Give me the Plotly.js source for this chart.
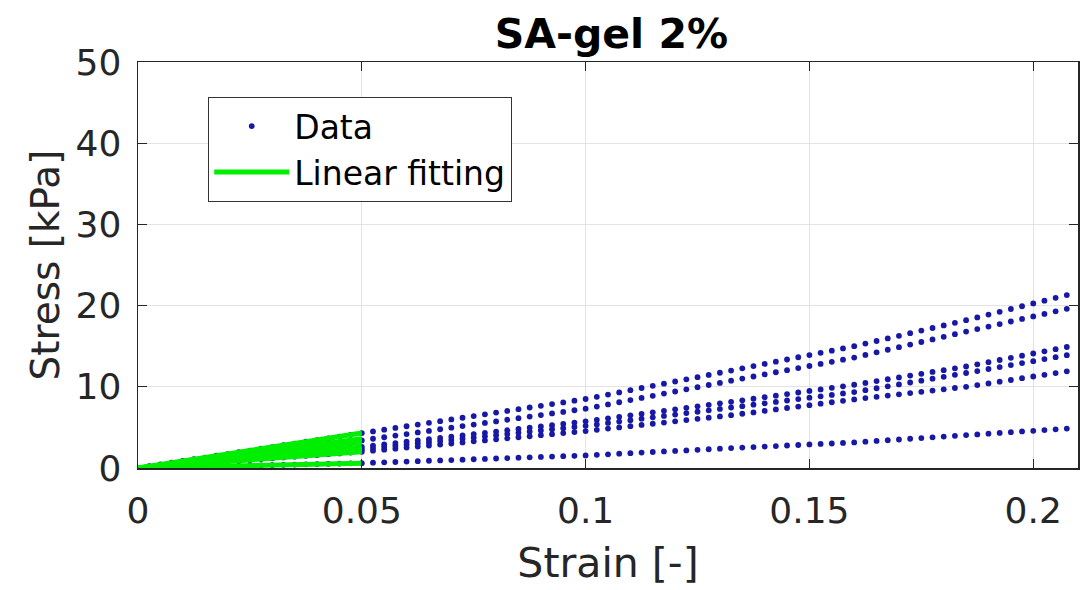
<!DOCTYPE html>
<html>
<head>
<meta charset="utf-8">
<script src="https://cdn.plot.ly/plotly-3.0.1.min.js"></script>
<style>html,body{margin:0;padding:0;background:#fff;}#chart{width:1084px;height:590px;}</style>
</head>
<body>
<div id="chart"></div>
<script>
// Strain grid shared by all measured curves
const strain = [0,0.0025,0.005,0.0075,0.01,0.0125,0.015,0.0175,0.02,0.0225,0.025,0.0275,0.03,0.0325,0.035,0.0375,0.04,0.0425,0.045,0.0475,0.05,
0.0525,0.055,0.0575,0.06,0.0625,0.065,0.0675,0.07,0.0725,0.075,0.0775,0.08,0.0825,0.085,0.0875,0.09,0.0925,0.095,0.0975,0.1,
0.1025,0.105,0.1075,0.11,0.1125,0.115,0.1175,0.12,0.1225,0.125,0.1275,0.13,0.1325,
0.135,0.1375,0.14,0.1425,0.145,0.1475,0.15,0.1525,0.155,0.1575,0.16,
0.1625,0.165,0.1675,0.17,0.1725,0.175,0.1775,0.18,0.1825,0.185,
0.1875,0.19,0.1925,0.195,0.1975,0.2,0.2025,0.205,0.2075];

// Stress [kPa] of each sample
const stressA = [0,0.22,0.43,0.65,0.86,1.08,1.29,1.51,1.72,1.94,2.15,2.37,2.58,2.80,3.01,3.23,3.44,3.66,3.87,4.09,4.30,
4.51,4.72,4.93,5.14,5.35,5.56,5.77,5.98,6.19,6.40,6.61,6.82,7.03,7.24,7.45,7.66,7.87,8.08,8.29,8.50,
8.77,9.04,9.31,9.58,9.85,10.12,10.38,10.65,10.92,11.19,11.46,11.73,12.00,
12.27,12.55,12.82,13.09,13.36,13.64,13.91,14.18,14.45,14.73,15.00,
15.32,15.64,15.96,16.28,16.60,16.92,17.24,17.56,17.88,18.20,
18.54,18.89,19.23,19.58,19.92,20.27,20.61,20.96,21.30];
const stressB = [0,0.17,0.34,0.51,0.68,0.85,1.02,1.19,1.36,1.53,1.70,1.87,2.04,2.21,2.38,2.55,2.72,2.89,3.06,3.23,3.40,
3.60,3.79,3.99,4.18,4.38,4.57,4.77,4.96,5.16,5.35,5.55,5.74,5.94,6.13,6.33,6.52,6.72,6.91,7.11,7.30,
7.57,7.83,8.10,8.36,8.63,8.89,9.16,9.42,9.69,9.95,10.22,10.48,10.75,
11.01,11.27,11.53,11.79,12.05,12.30,12.56,12.82,13.08,13.34,13.60,
13.92,14.24,14.56,14.88,15.20,15.52,15.84,16.16,16.48,16.80,
17.11,17.42,17.73,18.04,18.36,18.67,18.98,19.29,19.60];
const stressC = [0,0.13,0.26,0.39,0.52,0.65,0.78,0.91,1.04,1.17,1.30,1.43,1.56,1.69,1.82,1.95,2.08,2.21,2.34,2.47,2.60,
2.76,2.92,3.07,3.23,3.39,3.55,3.70,3.86,4.02,4.18,4.33,4.49,4.65,4.81,4.96,5.12,5.28,5.44,5.59,5.75,
5.93,6.12,6.30,6.49,6.67,6.86,7.04,7.23,7.41,7.60,7.78,7.97,8.15,
8.34,8.53,8.72,8.91,9.10,9.30,9.49,9.68,9.87,10.06,10.25,
10.48,10.70,10.93,11.15,11.38,11.60,11.83,12.05,12.28,12.50,
12.77,13.03,13.30,13.57,13.83,14.10,14.37,14.63,14.90];
const stressD = [0,0.12,0.23,0.35,0.46,0.58,0.69,0.81,0.92,1.04,1.15,1.27,1.38,1.50,1.61,1.73,1.84,1.96,2.07,2.19,2.30,
2.45,2.59,2.74,2.88,3.03,3.17,3.32,3.46,3.61,3.75,3.90,4.04,4.19,4.33,4.48,4.62,4.77,4.91,5.06,5.20,
5.37,5.55,5.72,5.89,6.07,6.24,6.41,6.58,6.76,6.93,7.10,7.28,7.45,
7.62,7.80,7.97,8.14,8.31,8.49,8.66,8.83,9.00,9.18,9.35,
9.59,9.82,10.06,10.29,10.53,10.76,11.00,11.23,11.47,11.70,
11.94,12.19,12.43,12.68,12.92,13.16,13.41,13.65,13.90];
const stressE = [0,0.10,0.20,0.30,0.40,0.50,0.60,0.70,0.80,0.90,1.00,1.10,1.20,1.30,1.40,1.50,1.60,1.70,1.80,1.90,2.00,
2.13,2.26,2.38,2.51,2.64,2.77,2.89,3.02,3.15,3.28,3.40,3.53,3.66,3.79,3.91,4.04,4.17,4.30,4.42,4.55,
4.70,4.85,5.00,5.15,5.30,5.45,5.60,5.75,5.90,6.05,6.20,6.35,6.50,
6.68,6.85,7.03,7.21,7.39,7.56,7.74,7.92,8.10,8.27,8.45,
8.61,8.76,8.92,9.07,9.23,9.38,9.54,9.69,9.85,10.00,
10.21,10.42,10.63,10.84,11.06,11.27,11.48,11.69,11.90];
const stressF = [0,0.03,0.06,0.09,0.12,0.15,0.18,0.21,0.24,0.27,0.30,0.33,0.36,0.39,0.42,0.45,0.48,0.51,0.54,0.57,0.60,
0.65,0.70,0.74,0.79,0.84,0.89,0.93,0.98,1.03,1.08,1.12,1.17,1.22,1.27,1.31,1.36,1.41,1.46,1.50,1.55,
1.62,1.69,1.76,1.83,1.90,1.97,2.04,2.10,2.17,2.24,2.31,2.38,2.45,
2.51,2.58,2.64,2.70,2.77,2.83,2.90,2.96,3.02,3.09,3.15,
3.24,3.33,3.42,3.51,3.60,3.69,3.78,3.87,3.96,4.05,
4.14,4.23,4.32,4.41,4.50,4.58,4.67,4.76,4.85];

// Linear fitting over the initial region (strain 0 - 0.05)
const fitStrain = [0, 0.05];
const fitEndStress = [4.3, 3.6, 3.2, 2.6, 2.3, 2.0, 0.6];

const xTicks = [0, 0.05, 0.1, 0.15, 0.2];
const xTickText = ['0', '0.05', '0.1', '0.15', '0.2'];
const yTicks = [0, 10, 20, 30, 40, 50];

const allStress = [stressA, stressB, stressC, stressD, stressE, stressF];

const traces = [];
allStress.forEach((s, k) => {
  traces.push({
    x: strain, y: s, type: 'scatter', mode: 'markers',
    name: 'Data', legendgroup: 'data', showlegend: k === 0,
    marker: {color: '#1818a6', size: 5.8},
    hoverinfo: 'x+y'
  });
});
const fx = [], fy = [];
fitEndStress.forEach(e => {
  fx.push(fitStrain[0], fitStrain[1], null);
  fy.push(0, e, null);
});
traces.push({
  x: fx, y: fy, type: 'scatter', mode: 'lines',
  name: 'Linear fitting', line: {color: 'rgb(0,238,0)', width: 5},
  connectgaps: false
});

const font = 'DejaVu Sans, Verdana, sans-serif';
const layout = {
  width: 1084, height: 590,
  margin: {l: 138, r: 6, t: 62, b: 122},
  paper_bgcolor: '#fff', plot_bgcolor: '#fff',
  font: {family: font, color: '#262626'},
  showlegend: true,
  title: {
    text: '<b>SA-gel 2%</b>',
    font: {family: font, size: 41, color: '#000'},
    x: 0.564, xanchor: 'center', xref: 'container',
    y: 0.943, yanchor: 'middle', yref: 'container'
  },
  xaxis: {
    range: [0, 0.21], tickvals: xTicks, ticktext: xTickText,
    ticks: 'inside', ticklen: 9, tickwidth: 1.3, tickcolor: '#262626',
    showline: true, linecolor: '#262626', linewidth: 1.5, mirror: 'allticks',
    showgrid: true, gridcolor: '#e3e3e3', gridwidth: 1, zeroline: false,
    tickfont: {family: font, size: 36, color: '#262626'},
    ticklabelstandoff: 10,
    title: {text: 'Strain [-]', font: {family: font, size: 41, color: '#262626'}, standoff: 18},
    automargin: false
  },
  yaxis: {
    range: [0, 50], tickvals: yTicks,
    ticks: 'inside', ticklen: 9, tickwidth: 1.3, tickcolor: '#262626',
    showline: true, linecolor: '#262626', linewidth: 1.5, mirror: 'allticks',
    showgrid: true, gridcolor: '#e3e3e3', gridwidth: 1, zeroline: false,
    tickfont: {family: font, size: 36, color: '#262626'},
    ticklabelstandoff: 8,
    title: {text: 'Stress [kPa]', font: {family: font, size: 39, color: '#262626'}, standoff: 4},
    automargin: false
  },
  legend: {
    x: 0.0745, y: 0.914, xanchor: 'left', yanchor: 'top',
    bgcolor: '#fff', bordercolor: '#333', borderwidth: 1.2,
    font: {family: font, size: 33, color: '#000'},
    itemwidth: 75, tracegroupgap: 0
  }
};

Plotly.newPlot('chart', traces, layout, {displayModeBar: false, staticPlot: true});
</script>
</body>
</html>
